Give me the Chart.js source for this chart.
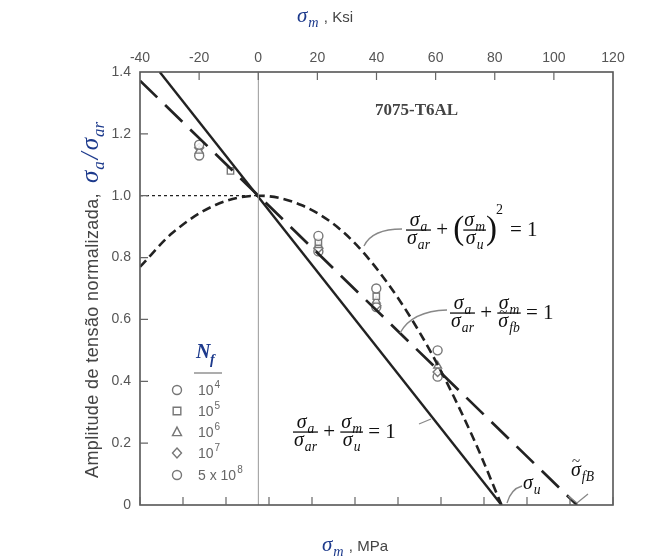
<!DOCTYPE html>
<html>
<head>
<meta charset="utf-8">
<script src="https://cdn.jsdelivr.net/npm/chart.js@4.4.1/dist/chart.umd.min.js"></script>
<style>
  html, body { margin: 0; padding: 0; background: #fff; }
  #grafico { display: block; }
</style>
</head>
<body>
<canvas id="grafico" width="656" height="558"></canvas>
<script>
// --- DADOS ---
// eixos
const limitesMPa = [-276, 827];     // eixo inferior, MPa
const limitesKsi = [-40, 120];      // eixo superior, ksi
const limitesY = [0, 1.4];
const rotulosMPa = [-200, 0, 200, 400, 600, 800];
const rotulosKsi = [-40, -20, 0, 20, 40, 60, 80, 100, 120];
const rotulosY = [0, 0.2, 0.4, 0.6, 0.8, 1.0, 1.2, 1.4];

// linha de Goodman (sigma_u ~ 567 MPa)
const goodmanX = [-230, 567];
const goodmanY = [1.4, 0];
// linha com sigma_fb ~ 743 MPa
const morrowX = [-276, 743];
const morrowY = [1.372, 0];
// parabola de Gerber
const gerberX = [-276, -200, -100, 0, 100, 200, 300, 400, 500, 567];
const gerberY = [0.77, 0.88, 0.97, 1.0, 0.97, 0.88, 0.72, 0.50, 0.22, 0];
// linha pontilhada em 1.0
const refX = [-276, 0];
const refY = [1.0, 1.0];

// pontos experimentais por Nf
const nf4X = [-138, 140, 275, 418];
const nf4Y = [1.165, 0.87, 0.70, 0.50];
const nf5X = [-65, 140, 275];
const nf5Y = [1.08, 0.85, 0.675];
const nf6X = [-138, 140, 275, 418];
const nf6Y = [1.145, 0.84, 0.66, 0.45];
const nf7X = [-138, 140, 275, 418];
const nf7Y = [1.155, 0.83, 0.645, 0.43];
const nf8X = [-138, 140, 275, 418];
const nf8Y = [1.13, 0.82, 0.64, 0.415];

const legendaNf = [
  { estilo: 'circle', base: '10', exp: '4' },
  { estilo: 'rect', base: '10', exp: '5' },
  { estilo: 'triangle', base: '10', exp: '6' },
  { estilo: 'rectRot', base: '10', exp: '7' },
  { estilo: 'circle', base: '5 x 10', exp: '8' }
];

// --- FUNCOES AUXILIARES ---
function pares(xs, ys) {
  return xs.map((x, i) => ({ x: x, y: ys[i] }));
}

const AZUL = '#1d3a8c';
const CINZA = '#555';
const SERIF = '"Liberation Serif", "DejaVu Serif", serif';
const SANS = '"Liberation Sans", Arial, sans-serif';

function larguraSig(ctx, sub, fs) {
  ctx.font = 'italic ' + fs + 'px ' + SERIF;
  const w1 = ctx.measureText('σ').width;
  ctx.font = 'italic ' + (fs * 0.68) + 'px ' + SERIF;
  return w1 + ctx.measureText(sub).width + 1;
}

// desenha sigma com subscrito; retorna largura
function sigma(ctx, x, y, sub, fs, til) {
  ctx.font = 'italic ' + fs + 'px ' + SERIF;
  ctx.fillText('σ', x, y);
  const w1 = ctx.measureText('σ').width;
  if (til) {
    ctx.font = (fs * 0.75) + 'px ' + SERIF;
    ctx.fillText('~', x + 1, y - fs * 0.5);
  }
  ctx.font = 'italic ' + (fs * 0.68) + 'px ' + SERIF;
  ctx.fillText(sub, x + w1 + 1, y + fs * 0.25);
  return w1 + ctx.measureText(sub).width + 1;
}

function fracao(ctx, x, yBarra, num, den, fs, tilDen) {
  const wn = larguraSig(ctx, num, fs);
  const wd = larguraSig(ctx, den, fs);
  const w = Math.max(wn, wd) + 2;
  sigma(ctx, x + (w - wn) / 2, yBarra - 4, num, fs);
  ctx.fillRect(x, yBarra - 0.6, w, 1.3);
  sigma(ctx, x + (w - wd) / 2, yBarra + fs * 0.72, den, fs, tilDen);
  return w;
}

function texto(ctx, t, x, y, fonte) {
  ctx.font = fonte;
  ctx.fillText(t, x, y);
  return ctx.measureText(t).width;
}

function marcador(ctx, estilo, x, y, r) {
  ctx.beginPath();
  if (estilo === 'circle') {
    ctx.arc(x, y, r, 0, Math.PI * 2);
  } else if (estilo === 'rect') {
    ctx.rect(x - r * 0.85, y - r * 0.85, r * 1.7, r * 1.7);
  } else if (estilo === 'triangle') {
    ctx.moveTo(x, y - r * 1.1);
    ctx.lineTo(x + r, y + r * 0.8);
    ctx.lineTo(x - r, y + r * 0.8);
    ctx.closePath();
  } else if (estilo === 'rectRot') {
    ctx.moveTo(x, y - r * 1.1);
    ctx.lineTo(x + r, y);
    ctx.lineTo(x, y + r * 1.1);
    ctx.lineTo(x - r, y);
    ctx.closePath();
  }
  ctx.stroke();
}

// --- PLUGIN: moldura, ticks internos, titulos, equacoes, legenda ---
const decoracao = {
  id: 'decoracao',
  beforeDraw(chart) {
    const ctx = chart.ctx;
    ctx.save();
    ctx.fillStyle = '#fff';
    ctx.fillRect(0, 0, chart.width, chart.height);
    ctx.restore();
  },
  afterDraw(chart) {
    const ctx = chart.ctx;
    const a = chart.chartArea;
    const sx = chart.scales.x, sx2 = chart.scales.x2, sy = chart.scales.y;
    ctx.save();

    // moldura
    ctx.strokeStyle = '#555';
    ctx.lineWidth = 1.6;
    ctx.strokeRect(a.left, a.top, a.right - a.left, a.bottom - a.top);

    // ticks internos
    ctx.lineWidth = 1.2;
    ctx.strokeStyle = '#666';
    ctx.beginPath();
    sx.ticks.forEach(t => {
      const p = sx.getPixelForValue(t.value);
      ctx.moveTo(p, a.bottom); ctx.lineTo(p, a.bottom - 8);
    });
    sx2.ticks.forEach(t => {
      if (t.value <= limitesKsi[0] || t.value >= limitesKsi[1]) return;
      const p = sx2.getPixelForValue(t.value);
      ctx.moveTo(p, a.top); ctx.lineTo(p, a.top + 8);
    });
    sy.ticks.forEach(t => {
      if (t.value <= 0.01 || t.value >= 1.39) return;
      const p = sy.getPixelForValue(t.value);
      ctx.moveTo(a.left, p); ctx.lineTo(a.left + 8, p);
    });
    ctx.stroke();

    ctx.textBaseline = 'alphabetic';
    ctx.textAlign = 'left';

    // titulo do eixo y (rotacionado)
    ctx.save();
    ctx.translate(98, 478);
    ctx.rotate(-Math.PI / 2);
    ctx.fillStyle = '#444';
    ctx.letterSpacing = '0.4px';
    let w = texto(ctx, 'Amplitude de tensão normalizada,', 0, 0, '18px ' + SANS);
    ctx.letterSpacing = '0px';
    ctx.fillStyle = AZUL;
    let xx = w + 10;
    xx += sigma(ctx, xx, 0, 'a', 25);
    xx += texto(ctx, '/', xx + 2, 0, 'italic 25px ' + SERIF) + 4;
    sigma(ctx, xx, 0, 'ar', 25);
    ctx.restore();

    // titulo eixo inferior
    ctx.fillStyle = AZUL;
    xx = 322;
    xx += sigma(ctx, xx, 551, 'm', 21);
    ctx.fillStyle = '#444';
    texto(ctx, ' , MPa', xx + 1, 551, '15px ' + SANS);

    // titulo eixo superior
    ctx.fillStyle = AZUL;
    xx = 297;
    xx += sigma(ctx, xx, 22, 'm', 21);
    ctx.fillStyle = '#444';
    texto(ctx, ' , Ksi', xx + 1, 22, '15px ' + SANS);

    // nome da liga
    ctx.fillStyle = '#444';
    texto(ctx, '7075-T6AL', 375, 115, 'bold 17px ' + SERIF);

    // linhas-guia das equacoes
    ctx.strokeStyle = '#888';
    ctx.lineWidth = 1.3;
    ctx.beginPath();
    ctx.moveTo(364, 246); ctx.quadraticCurveTo(372, 229, 402, 229);
    ctx.moveTo(400, 333); ctx.quadraticCurveTo(412, 311, 447, 310);
    ctx.moveTo(419, 424); ctx.lineTo(431, 419);
    ctx.moveTo(507, 503); ctx.quadraticCurveTo(511, 489, 522, 486);
    ctx.moveTo(568, 496); ctx.lineTo(577, 503); ctx.lineTo(588, 494);
    ctx.stroke();

    // equacoes
    ctx.fillStyle = '#111';
    const fs = 20;
    const reto = '21px ' + SERIF;
    // Gerber
    xx = 406;
    xx += fracao(ctx, xx, 230, 'a', 'ar', fs);
    xx += texto(ctx, ' + ', xx, 236, reto);
    texto(ctx, '(', xx, 239, '33px ' + SERIF);
    xx += 10;
    xx += fracao(ctx, xx, 230, 'm', 'u', fs);
    texto(ctx, ')', xx, 239, '33px ' + SERIF);
    xx += 10;
    texto(ctx, '2', xx, 214, '14px ' + SERIF);
    xx += 14;
    texto(ctx, '= 1', xx, 236, reto);
    // Morrow
    xx = 450;
    xx += fracao(ctx, xx, 313, 'a', 'ar', fs);
    xx += texto(ctx, ' + ', xx, 319, reto);
    xx += fracao(ctx, xx, 313, 'm', 'fb', fs, true);
    texto(ctx, ' = 1', xx, 319, reto);
    // Goodman
    xx = 293;
    xx += fracao(ctx, xx, 432, 'a', 'ar', fs);
    xx += texto(ctx, ' + ', xx, 438, reto);
    xx += fracao(ctx, xx, 432, 'm', 'u', fs);
    texto(ctx, ' = 1', xx, 438, reto);
    // rotulos no eixo
    sigma(ctx, 523, 489, 'u', fs);
    sigma(ctx, 571, 476, 'fB', fs, true);

    // legenda Nf
    ctx.fillStyle = AZUL;
    texto(ctx, 'N', 196, 358, 'italic bold 20px ' + SERIF);
    texto(ctx, 'f', 210, 364, 'italic bold 14px ' + SERIF);
    ctx.strokeStyle = '#777';
    ctx.lineWidth = 1.2;
    ctx.beginPath();
    ctx.moveTo(194, 373); ctx.lineTo(222, 373);
    ctx.stroke();
    const linhasY = [390, 411, 432, 453, 475];
    legendaNf.forEach((item, i) => {
      const yy = linhasY[i];
      ctx.strokeStyle = '#777';
      ctx.lineWidth = 1.4;
      marcador(ctx, item.estilo, 177, yy, 4.5);
      ctx.fillStyle = '#666';
      const wb = texto(ctx, item.base, 198, yy + 5, '14px ' + SANS);
      texto(ctx, item.exp, 198 + wb + 1, yy - 2, '10px ' + SANS);
    });

    ctx.restore();
  }
};

// --- GRAFICO ---
function serieMarcador(xs, ys, estilo) {
  return {
    type: 'scatter',
    data: pares(xs, ys),
    pointStyle: estilo,
    pointRadius: 4.5,
    pointBorderColor: '#777',
    pointBackgroundColor: 'rgba(255,255,255,0.85)',
    pointBorderWidth: 1.4,
    showLine: false,
    xAxisID: 'x',
    yAxisID: 'y'
  };
}

function serieLinha(xs, ys, cor, largura, tracejado, extra) {
  return Object.assign({
    type: 'line',
    data: pares(xs, ys),
    borderColor: cor,
    borderWidth: largura,
    borderDash: tracejado,
    pointRadius: 0,
    fill: false,
    xAxisID: 'x',
    yAxisID: 'y'
  }, extra || {});
}

const ctxGrafico = document.getElementById('grafico').getContext('2d');
new Chart(ctxGrafico, {
  type: 'scatter',
  data: {
    datasets: [
      serieLinha([0, 0], [limitesY[0], limitesY[1]], '#999', 1, []),
      serieLinha(refX, refY, '#222', 1.2, [3, 3]),
      serieLinha(gerberX, gerberY, '#222', 2.6, [9, 5], { cubicInterpolationMode: 'monotone' }),
      serieLinha(morrowX, morrowY, '#222', 2.7, [24, 11]),
      serieLinha(goodmanX, goodmanY, '#222', 2.4, []),
      serieMarcador(nf4X, nf4Y, 'circle'),
      serieMarcador(nf5X, nf5Y, 'rect'),
      serieMarcador(nf6X, nf6Y, 'triangle'),
      serieMarcador(nf7X, nf7Y, 'rectRot'),
      serieMarcador(nf8X, nf8Y, 'circle')
    ]
  },
  options: {
    responsive: false,
    animation: false,
    devicePixelRatio: 1,
    layout: { padding: { left: 0, right: 43, top: 0, bottom: 0 } },
    plugins: {
      legend: { display: false },
      tooltip: { enabled: false }
    },
    scales: {
      x: {
        type: 'linear',
        position: 'bottom',
        min: limitesMPa[0],
        max: limitesMPa[1],
        grid: { display: false, drawTicks: false },
        border: { display: false },
        afterFit(s) { s.height = 53; },
        ticks: {
          stepSize: 100,
          includeBounds: false,
          autoSkip: false,
          maxRotation: 0,
          padding: 12,
          color: CINZA,
          font: { family: SANS, size: 14 },
          callback: v => rotulosMPa.includes(v) ? String(v) : ''
        }
      },
      x2: {
        type: 'linear',
        position: 'top',
        min: limitesKsi[0],
        max: limitesKsi[1],
        grid: { display: false, drawTicks: false },
        border: { display: false },
        afterFit(s) { s.height = 72; },
        ticks: {
          stepSize: 20,
          autoSkip: false,
          maxRotation: 0,
          padding: 5,
          color: CINZA,
          font: { family: SANS, size: 14 },
          callback: v => rotulosKsi.includes(v) ? String(v) : ''
        }
      },
      y: {
        type: 'linear',
        position: 'left',
        min: limitesY[0],
        max: limitesY[1],
        grid: { display: false, drawTicks: false },
        border: { display: false },
        afterFit(s) { s.width = 140; },
        ticks: {
          stepSize: 0.2,
          autoSkip: false,
          padding: 9,
          color: CINZA,
          font: { family: SANS, size: 14 },
          callback: v => {
            const r = rotulosY.find(q => Math.abs(q - v) < 1e-6);
            if (r === undefined) return '';
            return r === 0 ? '0' : r.toFixed(1);
          }
        }
      }
    }
  },
  plugins: [decoracao]
});
</script>
</body>
</html>
